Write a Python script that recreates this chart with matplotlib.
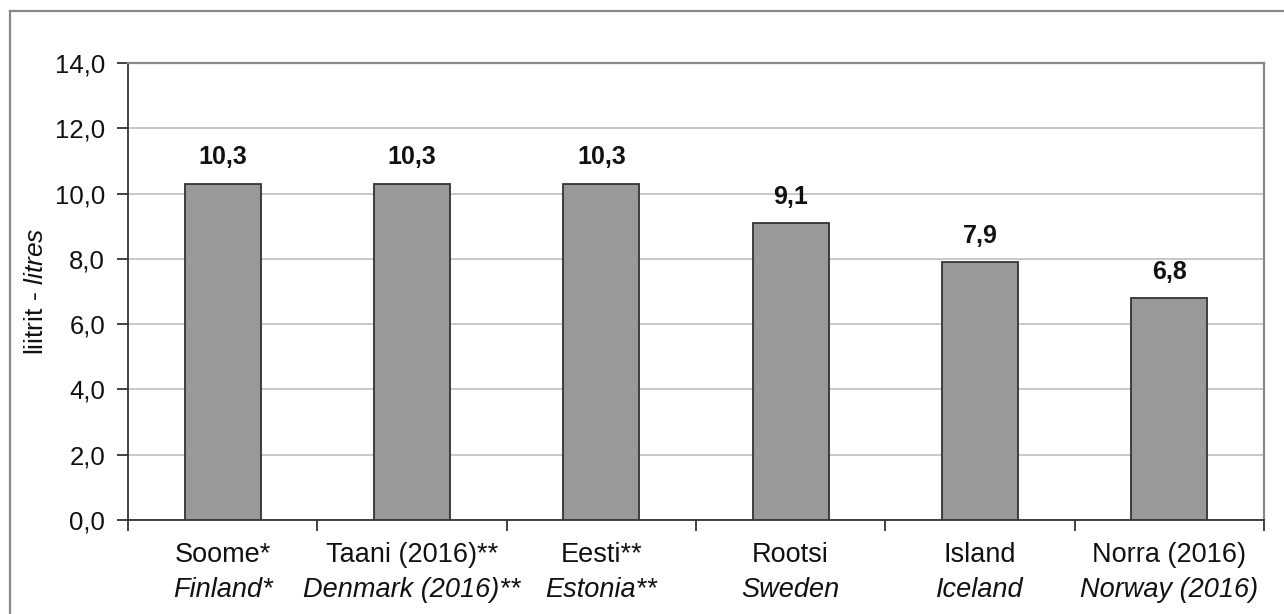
import numpy as np
import matplotlib.pyplot as plt
from matplotlib.lines import Line2D

plt.rcParams['font.family'] = ['Liberation Sans', 'DejaVu Sans']
plt.rcParams['mathtext.fontset'] = 'custom'
plt.rcParams['mathtext.rm'] = 'Liberation Sans'
plt.rcParams['mathtext.it'] = 'Liberation Sans:italic'

# Data
names_et = ['Soome*', 'Taani (2016)**', 'Eesti**', 'Rootsi', 'Island', 'Norra (2016)']
names_en = ['Finland*', 'Denmark (2016)**', 'Estonia**', 'Sweden', 'Iceland', 'Norway (2016)']
litres = [10.3, 10.3, 10.3, 9.1, 7.9, 6.8]
y_ticks = [0, 2, 4, 6, 8, 10, 12, 14]

fig = plt.figure(figsize=(12.84, 6.14), dpi=100)
ax = fig.add_axes([128 / 1284, 1 - 520 / 614, 1136 / 1284, 457 / 614])

x = np.arange(len(litres))
ax.bar(x, litres, width=0.40, color='#999999', edgecolor='#333333', linewidth=1.3, zorder=3)

# value labels
for xi, v in zip(x, litres):
    ax.annotate(f'{v:.1f}'.replace('.', ','), xy=(xi, v), xytext=(0, 14), textcoords='offset points',
                ha='center', va='baseline', fontsize=18, fontweight='bold', color='#111111')

ax.set_xlim(-0.5, len(litres) - 0.5)
ax.set_ylim(0, 14)
ax.set_yticks(y_ticks)
ax.set_yticklabels([f'{t:.1f}'.replace('.', ',') for t in y_ticks], fontsize=18.5, color='#111111')
ax.yaxis.grid(True, color='#c8c8c8', linewidth=1.4, zorder=0)
ax.set_axisbelow(True)

# category boundary ticks, labels drawn as text (two lines: Estonian + English italic)
ax.set_xticks(np.arange(-0.5, len(litres), 1.0))
ax.set_xticklabels([])
ax.tick_params(axis='x', direction='out', length=8, width=1.3, color='#333333')
ax.tick_params(axis='y', direction='out', length=8, width=1.3, color='#333333', pad=8.5)
trans = ax.get_xaxis_transform()
for xi, et, en in zip(x, names_et, names_en):
    ax.annotate(et, xy=(xi, 0), xycoords=trans, xytext=(0, -30.2), textcoords='offset points',
                ha='center', va='baseline', fontsize=19.5, color='#111111')
    ax.annotate(en, xy=(xi, 0), xycoords=trans, xytext=(0, -55.4), textcoords='offset points',
                ha='center', va='baseline', fontsize=19.5, style='italic', color='#111111')

ax.set_ylabel('liitrit - $\\mathit{litres}$', fontsize=19, color='#111111')
ax.yaxis.set_label_coords((48 - 128) / 1136, 0.5)

for side in ['left', 'bottom']:
    ax.spines[side].set_color('#333333')
    ax.spines[side].set_linewidth(1.3)
for side in ['top', 'right']:
    ax.spines[side].set_color('#888888')
    ax.spines[side].set_linewidth(1.6)

# outer chart frame (left and top edges visible)
fig.add_artist(Line2D([9.5 / 1284, 9.5 / 1284], [0, 1 - 11 / 614], color='#888888', linewidth=1.6))
fig.add_artist(Line2D([9.5 / 1284, 1], [1 - 11 / 614, 1 - 11 / 614], color='#888888', linewidth=1.6))

fig.savefig('out.png', dpi=100)
